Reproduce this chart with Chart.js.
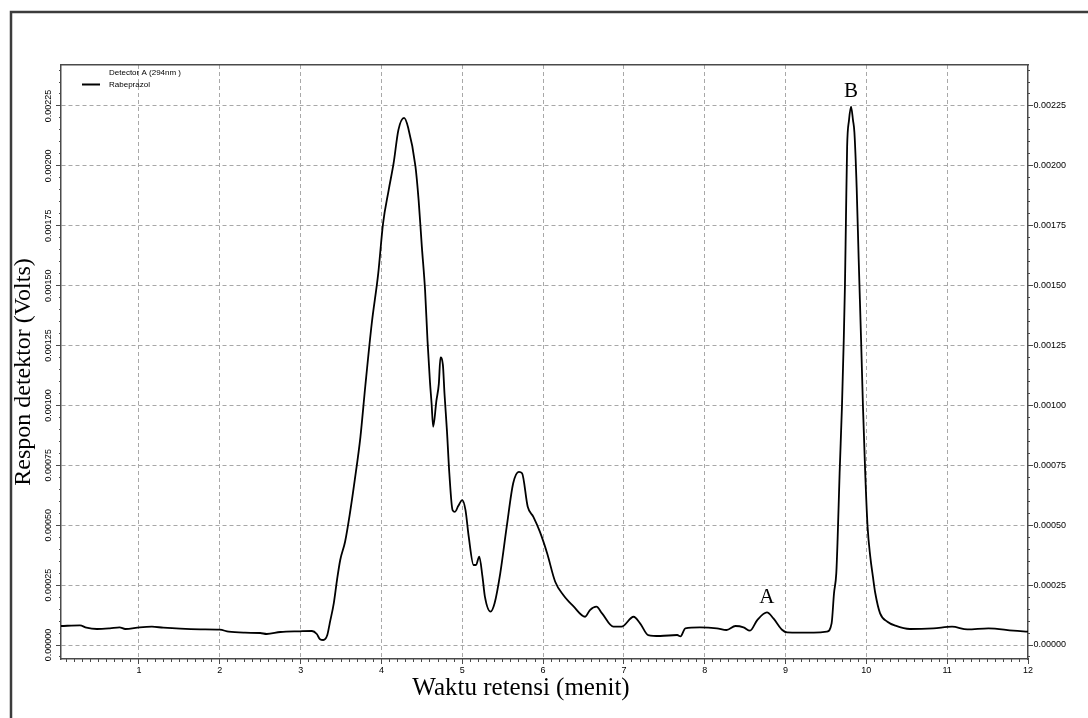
<!DOCTYPE html>
<html>
<head>
<meta charset="utf-8">
<script src="https://cdn.jsdelivr.net/npm/chart.js@4.4.1/dist/chart.umd.min.js"></script>
<style>
  html, body { margin: 0; padding: 0; background: #fff; }
  #wrap { width: 1088px; height: 718px; }
</style>
</head>
<body>
<div id="wrap"><canvas id="chromatogram" width="1088" height="718"></canvas></div>
<script>
// retention time (min) and detector response (V)
var times = [0.035, 0.27, 0.35, 0.48, 0.64, 0.76, 0.83, 1.01, 1.16, 1.30, 1.51, 1.76, 2.00, 2.11, 2.31, 2.50, 2.58, 2.75, 2.99, 3.14,
    3.20, 3.24, 3.28, 3.33, 3.36, 3.41, 3.45, 3.49, 3.55, 3.61, 3.67, 3.74, 3.80, 3.88, 3.96, 4.02, 4.09, 4.15, 4.21, 4.28,
    4.33, 4.42, 4.46, 4.50, 4.54, 4.57, 4.60, 4.62, 4.64, 4.68, 4.71, 4.73, 4.76, 4.78, 4.81, 4.84, 4.88, 4.91, 4.95, 5.00,
    5.04, 5.08, 5.14, 5.17, 5.21, 5.25, 5.28, 5.35, 5.40, 5.47, 5.55, 5.63, 5.70, 5.74, 5.81, 5.88, 5.96, 6.05, 6.15, 6.25,
    6.38, 6.52, 6.58, 6.66, 6.73, 6.87, 6.97, 7.12, 7.20, 7.30, 7.45, 7.66, 7.70, 7.76, 7.94, 8.15, 8.27, 8.38, 8.48, 8.56,
    8.65, 8.77, 8.85, 8.96, 9.02, 9.35, 9.51, 9.57, 9.60, 9.628, 9.644, 9.669, 9.698, 9.72, 9.735, 9.748, 9.762, 9.785, 9.81, 9.835,
    9.852, 9.88, 9.905, 9.935, 9.958, 9.986, 10.015, 10.048, 10.081, 10.11, 10.17, 10.26, 10.36, 10.54, 10.83, 11.06, 11.25, 11.51, 11.82, 12.0];
var signal = [0.0000793, 0.0000821, 0.0000723, 0.0000668, 0.0000697, 0.0000738, 0.0000668, 0.0000738, 0.0000764, 0.0000723,
    0.0000680, 0.0000655, 0.0000639, 0.0000555, 0.0000514, 0.0000501, 0.0000459, 0.0000543, 0.0000572, 0.0000584,
    0.0000459, 0.0000238, 0.0000209, 0.0000417, 0.0000905, 0.000174, 0.000271, 0.000355, 0.000431, 0.000550,
    0.000689, 0.000869, 0.001080, 0.001342, 0.001550, 0.001760, 0.001900, 0.002010, 0.002150, 0.002200,
    0.002160, 0.002000, 0.001857, 0.001662, 0.001480, 0.001270, 0.001100, 0.001010, 0.000911, 0.001020,
    0.001090, 0.001200, 0.001170, 0.001050, 0.000897, 0.000717, 0.000563, 0.000556, 0.000580, 0.000605,
    0.000563, 0.000452, 0.000334, 0.000334, 0.000369, 0.000285, 0.000202, 0.000139, 0.000174, 0.000299,
    0.000494, 0.000675, 0.000723, 0.000717, 0.000577, 0.000535, 0.000473, 0.000383, 0.000264, 0.000209,
    0.000160, 0.000118, 0.000146, 0.000160, 0.000132, 0.0000764, 0.0000764, 0.000118, 0.0000905, 0.0000417,
    0.0000376, 0.0000417, 0.0000360, 0.0000697, 0.0000738, 0.0000697, 0.0000626, 0.0000793, 0.0000738, 0.0000597,
    0.000104, 0.000136, 0.000111, 0.0000626, 0.0000528, 0.0000514, 0.0000555, 0.0000905, 0.000217, 0.000300,
    0.000438, 0.000717, 0.000995, 0.001270, 0.001500, 0.001790, 0.002080, 0.002190, 0.002247, 0.002190,
    0.002140, 0.001910, 0.001610, 0.001270, 0.000995, 0.000717, 0.000494, 0.000370, 0.000285, 0.000217,
    0.000132, 0.0000973, 0.0000806, 0.0000668, 0.0000697, 0.0000764, 0.0000655, 0.0000697, 0.0000597, 0.0000555];

var xTicks = [1, 2, 3, 4, 5, 6, 7, 8, 9, 10, 11, 12];
var yTicks = [0, 0.00025, 0.0005, 0.00075, 0.001, 0.00125, 0.0015, 0.00175, 0.002, 0.00225];
var xMin = 0.035, xMax = 12;
var yMin = -0.0000584, yMax = 0.002421;

var peakNames = ['A', 'B'];
var peakTimes = [8.77, 9.81];

var seriesName = 'Rabeprazol';
var detectorName = 'Detector A (294nm )';
var xTitle = 'Waktu retensi (menit)';
var yTitle = 'Respon detektor (Volts)';

var gridColor = '#a8a8a8';
var axisColor = '#4a4a4a';
var tickFont = { family: 'Liberation Sans', size: 9 };

function fixedSize(size) {
    return function (axis) {
        if (axis.isHorizontal()) axis.height = size; else axis.width = size;
    };
}
function setTicks(values) {
    return function (axis) {
        axis.ticks = values.map(function (v) { return { value: v }; });
    };
}
function steps(from, to, step) {
    var out = [];
    for (var i = 0; from + i * step <= to + 1e-12; i++) out.push(+(from + i * step).toFixed(6));
    return out;
}

var framePlugin = {
    id: 'frame',
    beforeDraw: function (chart) {
        var ctx = chart.ctx;
        ctx.save();
        ctx.fillStyle = '#fff';
        ctx.fillRect(0, 0, chart.width, chart.height);
        ctx.strokeStyle = '#3c3c3c';
        ctx.lineWidth = 2.5;
        ctx.beginPath();
        ctx.moveTo(11, chart.height);
        ctx.lineTo(11, 12);
        ctx.lineTo(chart.width, 12);
        ctx.stroke();
        ctx.restore();
    },
    afterDraw: function (chart) {
        var ctx = chart.ctx;
        var xs = chart.scales.x, ys = chart.scales.y;
        ctx.save();
        ctx.fillStyle = '#000';
        ctx.textAlign = 'center';
        ctx.textBaseline = 'alphabetic';

        // axis titles
        ctx.font = '25px "Liberation Serif"';
        ctx.fillText(xTitle, 521, 695);
        ctx.save();
        ctx.translate(30, 372);
        ctx.rotate(-Math.PI / 2);
        ctx.font = '24px "Liberation Serif"';
        ctx.fillText(yTitle, 0, 0);
        ctx.restore();

        // peak labels above the apex
        ctx.font = '21px "Liberation Serif"';
        peakNames.forEach(function (name, i) {
            var best = 0;
            times.forEach(function (t, j) {
                if (Math.abs(t - peakTimes[i]) < Math.abs(times[best] - peakTimes[i])) best = j;
            });
            ctx.fillText(name, xs.getPixelForValue(times[best]), ys.getPixelForValue(signal[best]) - 9.5);
        });

        // legend
        ctx.font = '8px "Liberation Sans"';
        ctx.textAlign = 'left';
        ctx.textBaseline = 'middle';
        ctx.fillText(detectorName, 109, 73);
        ctx.fillText(seriesName, 109, 84.5);
        ctx.strokeStyle = chart.data.datasets[0].borderColor;
        ctx.lineWidth = 2;
        ctx.beginPath();
        ctx.moveTo(82, 84.5);
        ctx.lineTo(100, 84.5);
        ctx.stroke();
        ctx.restore();
    }
};

var ctxChrom = document.getElementById('chromatogram').getContext('2d');
var chromChart = new Chart(ctxChrom, {
    type: 'line',
    data: {
        datasets: [{
            label: seriesName,
            data: times.map(function (t, i) { return { x: t, y: signal[i] }; }),
            borderColor: '#000',
            borderWidth: 1.8,
            pointRadius: 0,
            cubicInterpolationMode: 'monotone',
            fill: false
        }]
    },
    options: {
        responsive: false,
        animation: false,
        layout: { padding: { top: 65, left: 0, right: 0, bottom: 0 } },
        plugins: { legend: { display: false }, tooltip: { enabled: false } },
        scales: {
            x: {
                type: 'linear', position: 'bottom', weight: 1, min: xMin, max: xMax,
                afterBuildTicks: setTicks(xTicks),
                afterFit: fixedSize(59),
                grid: {
                    color: function (c) { return c.tick && c.tick.value < xMax ? gridColor : 'rgba(0,0,0,0)'; },
                    tickColor: axisColor, tickLength: 5, tickWidth: 1, tickBorderDash: []
                },
                border: { display: true, color: axisColor, width: 1.5, dash: [4, 3] },
                ticks: { font: tickFont, color: '#000', padding: 1, autoSkip: false, maxRotation: 0,
                    callback: function (v) { return String(v); } }
            },
            xMinor: {
                type: 'linear', position: 'bottom', weight: 0, min: xMin, max: xMax,
                afterBuildTicks: setTicks(steps(0.1, 12, 0.1)),
                afterFit: fixedSize(0),
                grid: { drawOnChartArea: false, tickColor: axisColor, tickLength: 3, tickWidth: 1 },
                border: { display: false },
                ticks: { display: false }
            },
            xTop: {
                type: 'linear', position: 'top', min: xMin, max: xMax,
                afterFit: fixedSize(0),
                grid: { display: false },
                border: { display: true, color: axisColor, width: 1.5 },
                ticks: { display: false }
            },
            y: {
                type: 'linear', position: 'left', weight: 1, min: yMin, max: yMax,
                afterBuildTicks: setTicks(yTicks),
                afterFit: fixedSize(61),
                grid: { color: gridColor, tickColor: axisColor, tickLength: 5, tickWidth: 1, tickBorderDash: [] },
                border: { display: true, color: axisColor, width: 1.5, dash: [4, 3] },
                ticks: { font: tickFont, color: '#000', minRotation: 90, maxRotation: 90, crossAlign: 'center',
                    padding: -9, autoSkip: false, callback: function (v) { return v.toFixed(5); } }
            },
            yMinor: {
                type: 'linear', position: 'left', weight: 0, min: yMin, max: yMax,
                afterBuildTicks: setTicks(steps(-0.00005, 0.0024, 0.00005)),
                afterFit: fixedSize(0),
                grid: { drawOnChartArea: false, tickColor: axisColor, tickLength: 2, tickWidth: 1 },
                border: { display: false },
                ticks: { display: false }
            },
            yRight: {
                type: 'linear', position: 'right', weight: 1, min: yMin, max: yMax,
                afterBuildTicks: setTicks(yTicks),
                afterFit: fixedSize(60),
                grid: { drawOnChartArea: false, tickColor: axisColor, tickLength: 5, tickWidth: 1 },
                border: { display: true, color: axisColor, width: 1.5 },
                ticks: { font: tickFont, color: '#000', padding: 0.5, autoSkip: false,
                    callback: function (v) { return v.toFixed(5); } }
            },
            yRightMinor: {
                type: 'linear', position: 'right', weight: 0, min: yMin, max: yMax,
                afterBuildTicks: setTicks(steps(-0.00005, 0.0024, 0.00005)),
                afterFit: fixedSize(0),
                grid: { drawOnChartArea: false, tickColor: axisColor, tickLength: 2, tickWidth: 1 },
                border: { display: false },
                ticks: { display: false }
            }
        }
    },
    plugins: [framePlugin]
});
</script>
</body>
</html>
